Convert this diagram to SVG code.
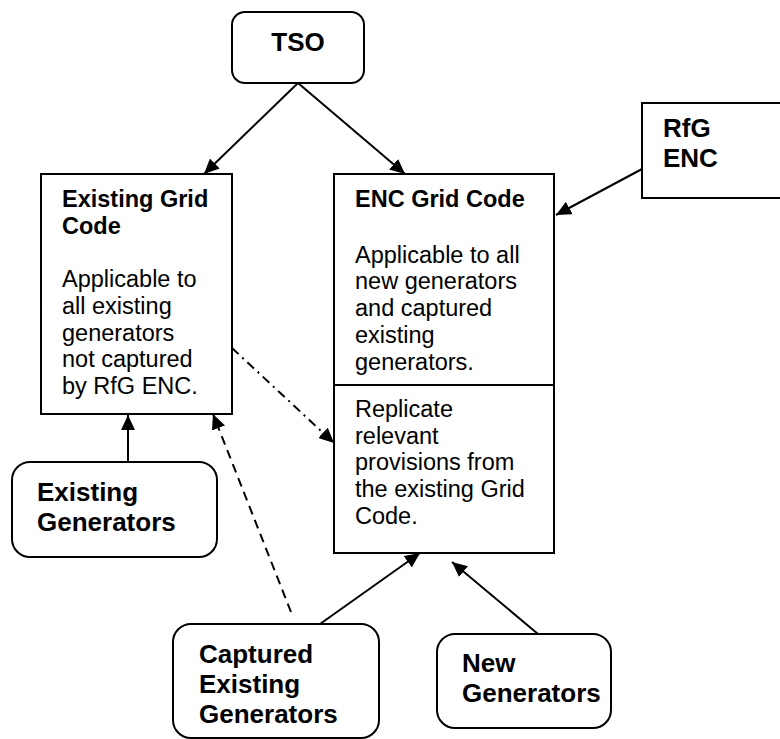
<svg xmlns="http://www.w3.org/2000/svg" width="780" height="739" viewBox="0 0 780 739">
<style>
.box{fill:#fff;stroke:#000;stroke-width:2}
.t{font-family:"Liberation Sans",Arial,sans-serif;font-size:23.5px;fill:#000}
.b{font-weight:bold}
.big{font-family:"Liberation Sans",Arial,sans-serif;font-size:26px;font-weight:bold;fill:#000}
.ln{stroke:#000;stroke-width:2;fill:none}
</style>
<defs>
<marker id="ah" markerUnits="userSpaceOnUse" markerWidth="16" markerHeight="14" refX="15" refY="7" orient="auto">
<path d="M0,0 L15,7 L0,14 z" fill="#000"/>
</marker>
</defs>
<rect width="780" height="739" fill="#fff"/>
<g id="connectors">
<line class="ln" x1="298" y1="83" x2="204" y2="174" marker-end="url(#ah)"/>
<line class="ln" x1="298" y1="83" x2="405" y2="174" marker-end="url(#ah)"/>
<line class="ln" x1="642" y1="169" x2="556" y2="215" marker-end="url(#ah)"/>
<line class="ln" x1="128" y1="462" x2="128" y2="415" marker-end="url(#ah)"/>
<line class="ln" x1="232" y1="348" x2="334" y2="443" stroke-dasharray="9,5,2,5" marker-end="url(#ah)"/>
<line class="ln" x1="291" y1="612" x2="213" y2="414" stroke-dasharray="9,6" marker-end="url(#ah)"/>
<line class="ln" x1="320" y1="624" x2="420" y2="553" marker-end="url(#ah)"/>
<line class="ln" x1="538" y1="634" x2="452" y2="562" marker-end="url(#ah)"/>
</g>
<g id="tso">
<rect class="box" x="232" y="12" width="132" height="71" rx="13"/>
<text class="big" x="298" y="51" text-anchor="middle">TSO</text>
</g>
<g id="rfg">
<rect class="box" x="642" y="103" width="150" height="95"/>
<text class="big" x="663" y="137">RfG</text>
<text class="big" x="663" y="167">ENC</text>
</g>
<g id="existing-grid-code">
<rect class="box" x="41" y="174" width="191" height="240"/>
<text class="t" x="62" y="207"><tspan class="b">Existing Grid</tspan><tspan class="b" x="62" dy="26.7">Code</tspan><tspan x="62" dy="53.4">Applicable to</tspan><tspan x="62" dy="26.7">all existing</tspan><tspan x="62" dy="26.7">generators</tspan><tspan x="62" dy="26.7">not captured</tspan><tspan x="62" dy="26.7">by RfG ENC.</tspan></text>
</g>
<g id="enc-grid-code">
<rect class="box" x="334" y="174" width="220" height="379"/>
<line class="ln" x1="334" y1="385" x2="554" y2="385"/>
<text class="t" x="355" y="207"><tspan class="b">ENC Grid Code</tspan><tspan x="355" dy="55.7">Applicable to all</tspan><tspan x="355" dy="26.7">new generators</tspan><tspan x="355" dy="26.7">and captured</tspan><tspan x="355" dy="26.7">existing</tspan><tspan x="355" dy="26.7">generators.</tspan></text>
<text class="t" x="355" y="417"><tspan>Replicate</tspan><tspan x="355" dy="26.7">relevant</tspan><tspan x="355" dy="26.7">provisions from</tspan><tspan x="355" dy="26.7">the existing Grid</tspan><tspan x="355" dy="26.7">Code.</tspan></text>
</g>
<g id="existing-generators">
<rect class="box" x="12" y="462" width="205" height="95" rx="18"/>
<text class="big" x="37" y="501">Existing</text>
<text class="big" x="37" y="531">Generators</text>
</g>
<g id="captured-existing-generators">
<rect class="box" x="173" y="624" width="206" height="114" rx="18"/>
<text class="big" x="199" y="663">Captured</text>
<text class="big" x="199" y="693">Existing</text>
<text class="big" x="199" y="723">Generators</text>
</g>
<g id="new-generators">
<rect class="box" x="437" y="634" width="174" height="94" rx="18"/>
<text class="big" x="462" y="672">New</text>
<text class="big" x="462" y="702">Generators</text>
</g>
</svg>
